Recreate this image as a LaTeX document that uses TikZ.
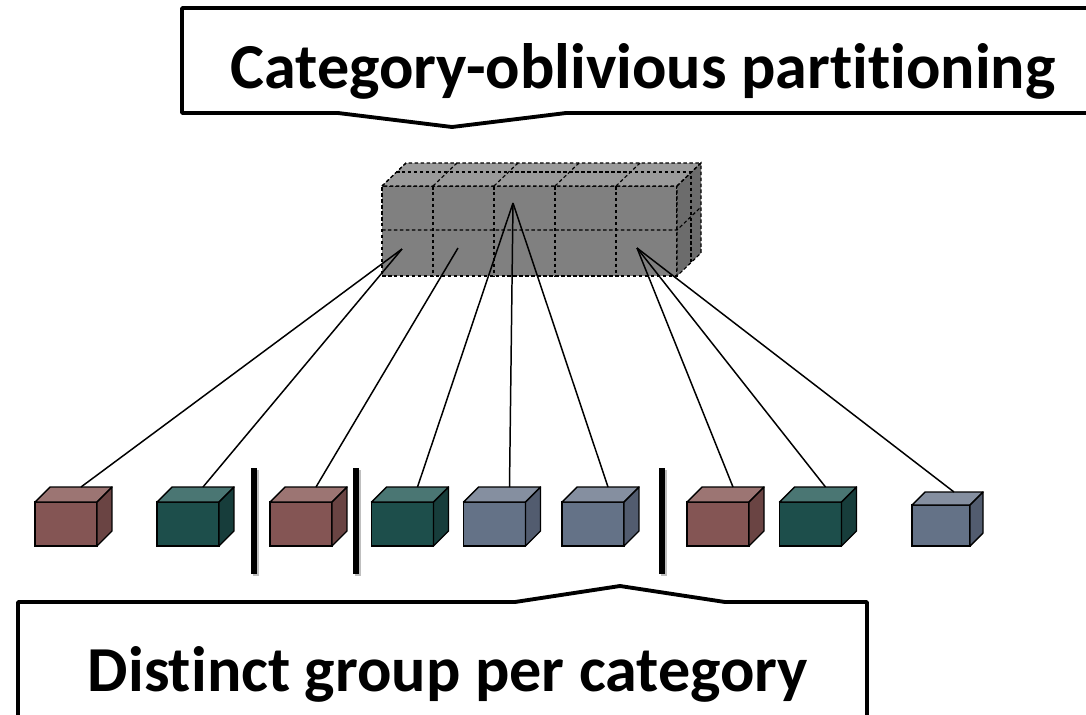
\documentclass[tikz,border=0pt]{standalone}
\usepackage{fontspec}
\setmainfont{Carlito}[Ligatures=NoCommon]
\definecolor{rosefront}{HTML}{845554}
\definecolor{rosetop}{HTML}{9C7573}
\definecolor{roseside}{HTML}{6A4443}
\definecolor{tealfront}{HTML}{1D4E4B}
\definecolor{tealtop}{HTML}{4A7673}
\definecolor{tealside}{HTML}{173D3B}
\definecolor{slatefront}{HTML}{647287}
\definecolor{slatetop}{HTML}{858FA0}
\definecolor{slateside}{HTML}{525C6F}
\definecolor{slabfront}{HTML}{808080}
\definecolor{slabtop}{HTML}{9A9A9A}
\definecolor{slabside}{HTML}{6C6C6C}
% top and right faces of a small box, #2 = depth
\newcommand{\boxsides}[4]{%
  \filldraw[#3,draw=black,line width=0.8pt,line join=round]
    (#1.north west) -- ([shift={(#2,-#2)}]#1.north west)
    -- ([shift={(#2,-#2)}]#1.north east) -- (#1.north east) -- cycle;
  \filldraw[#4,draw=black,line width=0.8pt,line join=round]
    (#1.north east) -- ([shift={(#2,-#2)}]#1.north east)
    -- ([shift={(#2,-#2)}]#1.south east) -- (#1.south east) -- cycle;
}

\begin{document}
\begin{tikzpicture}[
  x=0.02cm,y=-0.02cm,
  banner/.style={anchor=base,font=\bfseries\fontsize{36.5}{38}\selectfont,inner sep=0pt},
  callout/.style={draw=black,fill=white,line width=2.2pt,line join=round},
  slab/.style={draw=black,fill=slabfront,line width=0.65pt,
    dash pattern=on 2pt off 1.4pt,
    minimum width=5.9cm,minimum height=1.8cm,inner sep=0pt,outer sep=0pt},
  grid/.style={draw=black,line width=0.65pt,dash pattern=on 2pt off 1.4pt},
  record/.style={draw=black,line width=0.8pt,minimum width=1.24cm,
    minimum height=0.88cm,inner sep=0pt,outer sep=0pt},
  smallrecord/.style={record,minimum width=1.16cm,minimum height=0.82cm},
  link/.style={draw=black,line width=0.85pt},
  divider/.style={draw=black,line width=3.6pt}
]
\useasboundingbox (0,0) rectangle (1086,714);
\clip (0,0) rectangle (1086,714);

% callouts
\draw[callout] (182,8) -- (1100,8) -- (1100,113) -- (566,113)
  -- (452,127) -- (338,113) -- (182,113) -- cycle;
\node[banner] (oblivious) at (643,88) {Category-oblivious partitioning};
\draw[callout] (18,730) -- (18,602) -- (515,602) -- (620,586)
  -- (725,602) -- (867,602) -- (867,730);
\node[banner] (distinct) at (448,691) {Distinct group per category};

% partitioned slab
\node[slab] (blockfront) at (529.5,231) {};
\filldraw[slabtop,grid] (382,186) -- (406,163) -- (701,163) -- (677,186) -- cycle;
\filldraw[slabside,grid] (677,186) -- (701,163) -- (701,253) -- (677,276) -- cycle;
\foreach \x in {433,494,555,616}
  \draw[grid] (\x,186) -- (\x,276);
\foreach \x in {382,433,494,555,616,677}
  \draw[grid] (\x,186) -- ++(24,-23);
\draw[grid] (382,230) -- (677,230) -- (701,207);
\draw[grid] (396,172) -- (691,172) -- (691,262);
\coordinate (left) at (402,249);
\coordinate (midleft) at (458,248);
\coordinate (centre) at (513,203);
\coordinate (right) at (637,248);

% records
\node[record,fill=rosefront] (rec1) at (66,524) {};
\node[record,fill=tealfront] (rec2) at (188,524) {};
\node[record,fill=rosefront] (rec3) at (301,524) {};
\node[record,fill=tealfront] (rec4) at (402.5,524) {};
\node[record,fill=slatefront] (rec5) at (494.5,524) {};
\node[record,fill=slatefront] (rec6) at (593,524) {};
\node[record,fill=rosefront] (rec7) at (718,524) {};
\node[record,fill=tealfront] (rec8) at (810.5,524) {};
\node[smallrecord,fill=slatefront] (rec9) at (941,525.5) {};
\boxsides{rec1}{15}{rosetop}{roseside}
\boxsides{rec2}{15}{tealtop}{tealside}
\boxsides{rec3}{15}{rosetop}{roseside}
\boxsides{rec4}{15}{tealtop}{tealside}
\boxsides{rec5}{15}{slatetop}{slateside}
\boxsides{rec6}{15}{slatetop}{slateside}
\boxsides{rec7}{15}{rosetop}{roseside}
\boxsides{rec8}{15}{tealtop}{tealside}
\boxsides{rec9}{13}{slatetop}{slateside}

\draw[link] (left) -- ([shift={(15,-15)}]rec1.north);
\draw[link] (left) -- ([shift={(15,-15)}]rec2.north);
\draw[link] (midleft) -- ([shift={(15,-15)}]rec3.north);
\draw[link] (centre) -- ([shift={(15,-15)}]rec4.north);
\draw[link] (centre) -- ([shift={(15,-15)}]rec5.north);
\draw[link] (centre) -- ([shift={(15,-15)}]rec6.north);
\draw[link] (right) -- ([shift={(15,-15)}]rec7.north);
\draw[link] (right) -- ([shift={(15,-15)}]rec8.north);
\draw[link] (right) -- ([shift={(13,-13)}]rec9.north);

% group separators
\foreach \x in {254,356,662}
  \draw[divider,black!25] (\x+2,470) -- (\x+2,576);
\draw[divider] (254,468) -- (254,574);
\draw[divider] (356,468) -- (356,574);
\draw[divider] (662,468) -- (662,574);
\end{tikzpicture}
\end{document}
